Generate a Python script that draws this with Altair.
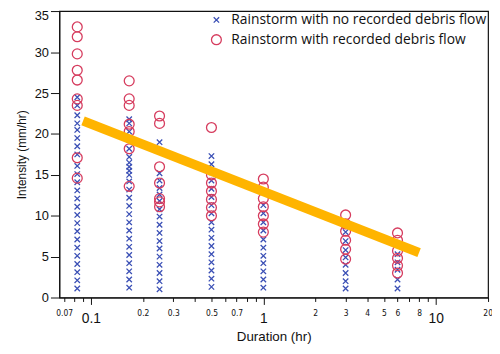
import altair as alt
import pandas as pd

# ---- data ----
durations = [0.0833, 0.1667, 0.25, 0.5, 1.0, 3.0, 6.0]

# rainstorms with no recorded debris flow (blue x), one list per duration column
no_flow_d1 = [1.1, 2.1, 3.1, 4.1, 5.1, 6.1, 7.1, 8.1, 9.1, 10.1, 11.1, 12.1, 13.1, 14.1,
              15.1, 16.1, 17.5, 18.5, 19.5, 20.5, 21.3, 22.3, 23.5, 24.5]
no_flow_d2 = [1.2, 2.2, 3.2, 4.2, 5.2, 6.2, 7.2, 8.2, 9.2, 10.2, 11.2, 12.2, 13.2, 14.2,
              15.0, 15.5, 16.0, 16.5, 17.2, 18.2, 19.3, 20.3, 21.3, 21.8]
no_flow_d3 = [1.0, 2.0, 3.0, 4.0, 5.0, 6.0, 6.9, 7.9, 8.9, 9.9, 10.8, 11.8, 12.6, 13.4,
              14.3, 15.2, 19.0]
no_flow_d4 = [1.3, 2.3, 3.3, 4.3, 5.3, 6.3, 7.3, 8.3, 9.2, 10.3, 11.3, 12.3, 13.3, 14.3,
              15.3, 16.3, 17.3]
no_flow_d5 = [1.2, 2.2, 3.2, 4.2, 5.1, 6.1, 7.1, 8.2, 9.2, 10.3, 11.3]
no_flow_d6 = [1.1, 2.0, 3.0, 4.0, 4.9, 5.8, 6.9, 8.0]
no_flow_d7 = [1.1, 2.2, 3.4, 4.3, 5.3]

# rainstorms with recorded debris flow (red circles)
flow_d1 = [14.6, 17.1, 23.5, 24.3, 26.6, 27.8, 29.8, 31.9, 33.1]
flow_d2 = [13.6, 18.2, 20.3, 21.2, 23.5, 24.3, 26.5]
flow_d3 = [11.1, 11.7, 12.1, 14.0, 16.0, 21.3, 22.2]
flow_d4 = [10.0, 11.0, 12.0, 13.0, 14.0, 15.0, 20.8]
flow_d5 = [8.0, 9.0, 10.0, 11.1, 12.1, 13.5, 14.5]
flow_d6 = [4.7, 5.9, 7.0, 8.1, 9.0, 10.1]
flow_d7 = [3.0, 3.9, 4.8, 5.7, 7.0, 7.9]

# threshold line (orange)
threshold_x = [0.09, 8.0]
threshold_y = [21.6, 5.5]

# axis ticks / labels
x_tick_values = [0.07, 0.08, 0.09, 0.1, 0.2, 0.3, 0.4, 0.5, 0.6, 0.7, 0.8, 0.9,
                 1, 2, 3, 4, 5, 6, 7, 8, 9, 10, 20]
x_label_values = [0.07, 0.1, 0.2, 0.3, 0.5, 0.7, 1, 2, 3, 4, 5, 6, 8, 10, 20]
x_major_values = [0.1, 1, 10]
y_tick_values = [0, 2.5, 5, 7.5, 10, 12.5, 15, 17.5, 20, 22.5, 25, 27.5, 30, 32.5, 35]

LBL_NO = "Rainstorm with no recorded debris flow"
LBL_YES = "Rainstorm with recorded debris flow"

# ---- build tables ----
no_cols = [no_flow_d1, no_flow_d2, no_flow_d3, no_flow_d4, no_flow_d5, no_flow_d6, no_flow_d7]
yes_cols = [flow_d1, flow_d2, flow_d3, flow_d4, flow_d5, flow_d6, flow_d7]
rows = []
for d, vals in zip(durations, no_cols):
    for v in vals:
        rows.append({"duration": d, "intensity": v, "type": LBL_NO})
for d, vals in zip(durations, yes_cols):
    for v in vals:
        rows.append({"duration": d, "intensity": v, "type": LBL_YES})
df = pd.DataFrame(rows)
line_df = pd.DataFrame({"duration": threshold_x, "intensity": threshold_y})

x_labels_js = "[" + ",".join(str(v) for v in x_label_values) + "]"
x_major_js = "[" + ",".join(str(v) for v in x_major_values) + "]"
major_test = f"indexof({x_major_js}, datum.value) >= 0"

xscale = alt.Scale(type="log", domain=[0.0656, 20.1], nice=False)
yscale = alt.Scale(domain=[0, 35.04], nice=False, zero=False)

x_axis = alt.Axis(
    title="Duration (hr)",
    values=x_tick_values,
    labelExpr=f"indexof({x_labels_js}, datum.value) >= 0 ? format(datum.value, '~g') : ''",
    labelFontSize={"condition": {"test": major_test, "value": 14}, "value": 8.5},
    labelFont={"condition": {"test": major_test, "value": "Liberation Sans"},
               "value": "Liberation Sans Narrow, DejaVu Sans Condensed, Liberation Sans, sans-serif"},
    tickSize={"condition": {"test": major_test, "value": 7}, "value": 4},
    labelPadding=7,
    labelFlush=False,
    labelOverlap=False,
    labelColor="#111",
    tickColor="#111",
    domainColor="#111",
    grid=False,
    zindex=1,
    titleFont="Liberation Sans",
    titleFontSize=13.5,
    titleFontWeight="normal",
    titleColor="#111",
    titlePadding=5,
)

y_axis = alt.Axis(
    title="Intensity (mm/hr)",
    values=y_tick_values,
    labelExpr="datum.value % 5 == 0 ? format(datum.value, 'd') : ''",
    tickSize={"condition": {"test": "datum.value % 5 == 0", "value": 9}, "value": 3},
    labelOffset={"condition": {"test": "datum.value == 35", "value": 4}, "value": 0},
    labelPadding=2,
    labelFont="Liberation Sans",
    labelFontSize=13,
    labelColor="#111",
    tickColor="#111",
    domainColor="#111",
    grid=False,
    zindex=1,
    titleFont="Liberation Sans",
    titleFontSize=12,
    titleFontWeight="normal",
    titleColor="#111",
    titlePadding=6,
)

legend = alt.Legend(title=None, orient="none", legendX=152, legendY=2,
                    labelFont="Open Sans", labelFontSize=14, labelColor="#111",
                    labelOffset=8, labelLimit=0, rowPadding=5, symbolStrokeWidth=1.3,
                    symbolSize=100)

points = alt.Chart(df).mark_point(filled=False, size=100, strokeWidth=1.3, opacity=1).encode(
    x=alt.X("duration:Q", scale=xscale, axis=x_axis),
    y=alt.Y("intensity:Q", scale=yscale, axis=y_axis),
    color=alt.Color("type:N",
                    scale=alt.Scale(domain=[LBL_NO, LBL_YES], range=["#3a4fb5", "#d63c5e"]),
                    legend=legend),
    shape=alt.Shape("type:N",
                    scale=alt.Scale(domain=[LBL_NO, LBL_YES],
                                    range=["M-0.55,-0.55L0.55,0.55M-0.55,0.55L0.55,-0.55", "circle"]),
                    legend=legend),
)

trend = alt.Chart(line_df).mark_line(color="#FFB400", strokeWidth=9.5, strokeCap="butt").encode(
    x=alt.X("duration:Q", scale=xscale),
    y=alt.Y("intensity:Q", scale=yscale),
)

chart = alt.layer(points, trend).properties(
    width=434,
    height=290,
    autosize=alt.AutoSizeParams(type="none"),
    padding={"left": 52, "top": 1, "right": 4, "bottom": 47},
    background="white",
).configure_view(stroke="#111", strokeWidth=1.2)

chart.save("out.html", embed_options={"renderer": "svg", "actions": False})
